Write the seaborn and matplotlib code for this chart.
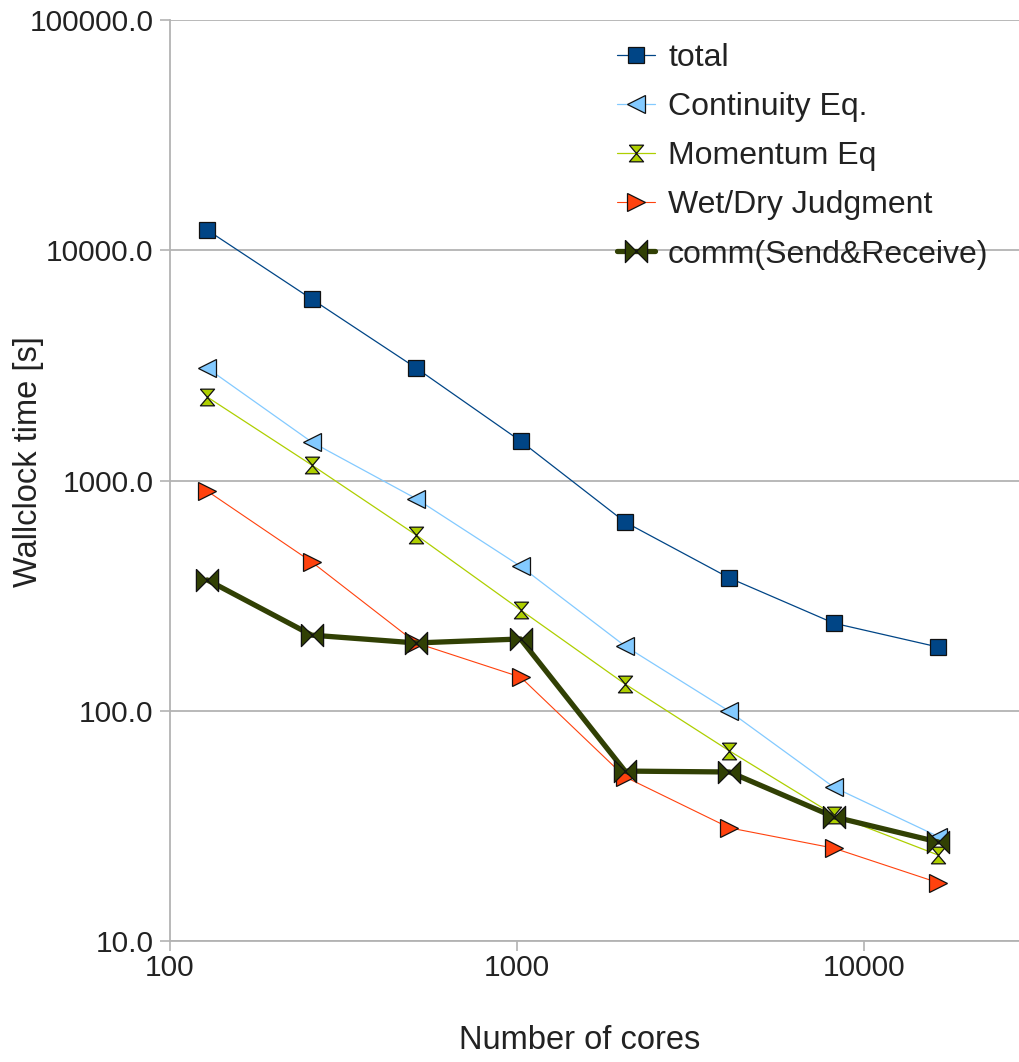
import matplotlib
matplotlib.use("Agg")
import matplotlib.pyplot as plt
import seaborn as sns
import pandas as pd
from matplotlib.ticker import FixedLocator, FixedFormatter, NullLocator

cores = [128, 256, 512, 1024, 2048, 4096, 8192, 16384]
total = [12240, 6140, 3080, 1484, 660, 377, 240, 189]
continuity = [3080, 1470, 834, 424, 191, 99.4, 46.5, 28.4]
momentum = [2305, 1168, 580, 274, 130.7, 66.9, 35.3, 23.6]
wetdry = [900, 443, 197, 140, 51.6, 31.0, 25.3, 17.9]
comm = [370, 213, 197, 205, 54.7, 54.2, 34.6, 26.9]

labels = ["total", "Continuity Eq.", "Momentum Eq", "Wet/Dry Judgment", "comm(Send&Receive)"]
series = [total, continuity, momentum, wetdry, comm]

yticks = [10, 100, 1000, 10000, 100000]
ytick_labels = ["10.0", "100.0", "1000.0", "10000.0", "100000.0"]
xticks = [100, 1000, 10000]
xtick_labels = ["100", "1000", "10000"]

sns.set_theme(style="white")
plt.rcParams['font.family'] = ['Liberation Sans', 'DejaVu Sans']

hourglass = [(-0.85, 1), (0.85, 1), (-0.85, -1), (0.85, -1), (-0.85, 1)]
bowtie = [(-1, 1), (-1, -1), (1, 1), (1, -1), (-1, 1)]

styles = [
    dict(color="#004586", marker="s", ms=11, lw=0.9),
    dict(color="#83caff", marker="<", ms=13, lw=0.9),
    dict(color="#aecf00", marker=hourglass, ms=12, lw=0.9),
    dict(color="#ff420e", marker=">", ms=13, lw=0.8),
    dict(color="#314004", marker=bowtie, ms=16, lw=3.8),
]

fig = plt.figure(figsize=(10.19, 10.62), dpi=100)
W, H = 1019, 1062
ax = fig.add_axes([170 / W, 1 - 941 / H, (W - 170) / W, (941 - 20) / H])

for lab, vals, st in zip(labels, series, styles):
    df = pd.DataFrame({"cores": cores, "time": vals})
    sns.lineplot(data=df, x="cores", y="time", ax=ax, color=st["color"],
                 marker=st["marker"], markersize=st["ms"], linewidth=st["lw"],
                 markeredgecolor="#111111", markeredgewidth=0.9,
                 markerfacecolor=st["color"], label=lab, sort=False)

ax.set_xscale("log")
ax.set_yscale("log")
ax.set_xlim(100, 10 ** (2 + (W - 170) / 347.0))
ax.set_ylim(10, 100000)

ax.yaxis.set_major_locator(FixedLocator(yticks))
ax.yaxis.set_major_formatter(FixedFormatter(ytick_labels))
ax.yaxis.set_minor_locator(NullLocator())
ax.xaxis.set_major_locator(FixedLocator(xticks))
ax.xaxis.set_major_formatter(FixedFormatter(xtick_labels))
ax.xaxis.set_minor_locator(NullLocator())

gray = "#b3b3b3"
ax.grid(False)
ax.yaxis.grid(True, color=gray, linewidth=1.3)
ax.set_axisbelow(True)
for s in ["top", "right"]:
    ax.spines[s].set_visible(False)
for s in ["left", "bottom"]:
    ax.spines[s].set_color(gray)
    ax.spines[s].set_linewidth(1.3)

ax.tick_params(axis="both", which="major", direction="out", length=7, width=1.2,
               color=gray, labelsize=21.5, labelcolor="#222222", pad=5, left=True, bottom=True)
ax.tick_params(axis="x", pad=2)

ax.set_xlabel("Number of cores", fontsize=23.5, color="#222222")
ax.set_ylabel("Wallclock time [s]", fontsize=23.5, color="#222222")
ax.xaxis.set_label_coords((580 - 170) / 849, (941 - 1025) / 921)
ax.yaxis.set_label_coords((44 - 170) / 849, (941 - 462) / 921)

leg = ax.legend(loc="upper left", bbox_to_anchor=(617 / W, 1 - 43 / H),
                bbox_transform=fig.transFigure, frameon=False, fontsize=23,
                borderpad=0, borderaxespad=0, handlelength=1.2, handletextpad=0.4,
                labelspacing=0.6, labelcolor="#222222")

fig.savefig("out.png", dpi=100, facecolor="white")
